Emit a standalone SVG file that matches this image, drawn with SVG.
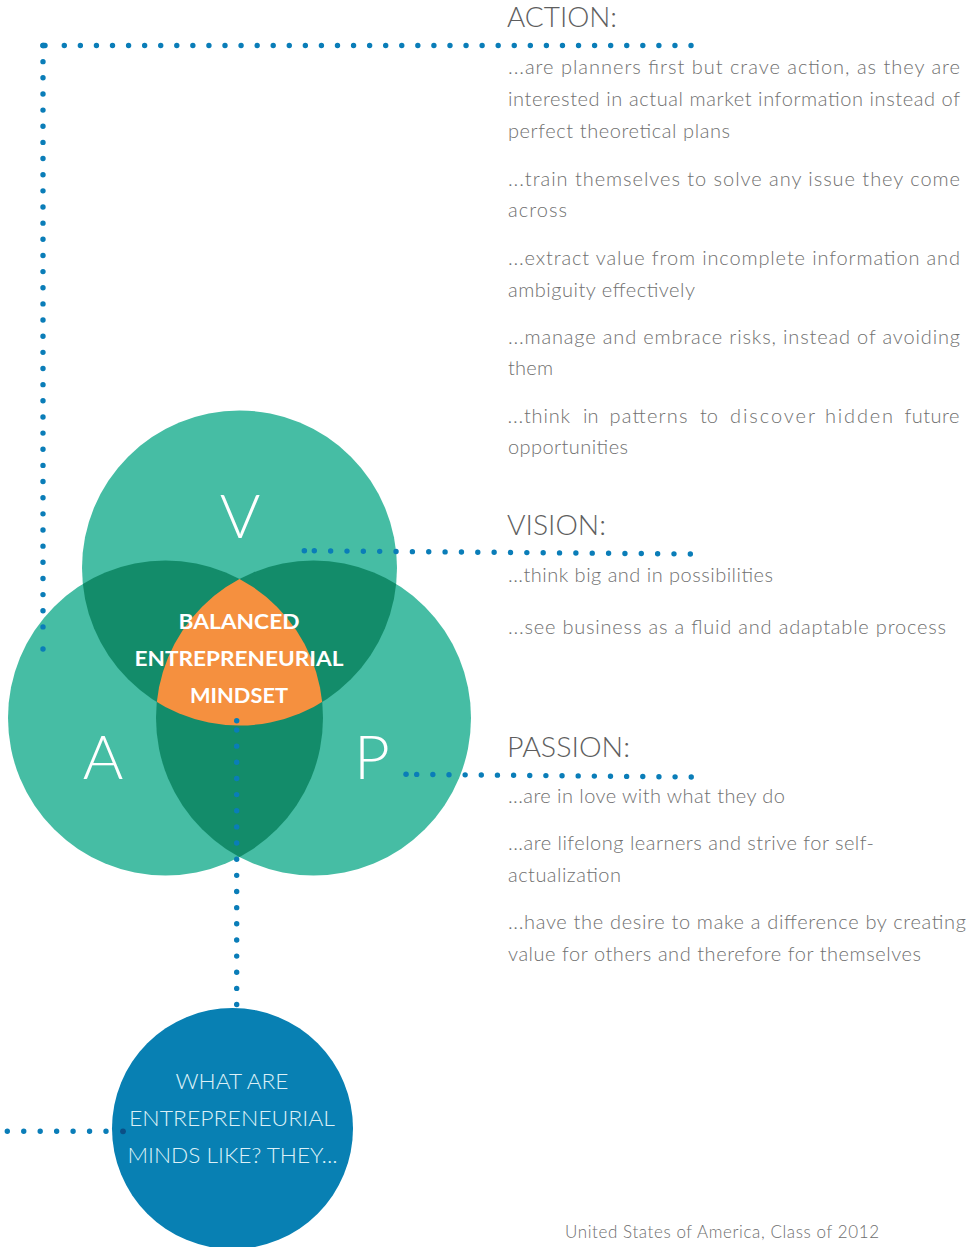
<svg xmlns="http://www.w3.org/2000/svg" width="978" height="1247" viewBox="0 0 978 1247">
<style>
.dots{fill:none;stroke:#0a7db8;stroke-width:5.4;stroke-linecap:round}
.light{fill:#46bda4}
.dark{fill:#138c6a}
.core{fill:#f5903f}
.big{font-family:Lato,"Open Sans","Liberation Sans",sans-serif;font-weight:300;font-size:62px;fill:#ffffff}
.mid{font-family:Lato,"Liberation Sans",sans-serif;font-weight:700;font-size:21px;fill:#ffffff;text-anchor:middle}
.head{font-family:Lato,"Liberation Sans",sans-serif;font-weight:300;font-size:27px;fill:#5e5e5e}
.body{font-family:Lato,"Liberation Sans",sans-serif;font-weight:300;font-size:20px;fill:#707070}
.q{font-family:Lato,"Liberation Sans",sans-serif;font-weight:300;font-size:22px;fill:#dcf0f7;text-anchor:middle}
.foot{font-family:Lato,"Liberation Sans",sans-serif;font-weight:300;font-size:17px;fill:#6e6e6e}
</style>
<defs>
<clipPath id="cV"><circle cx="239.5" cy="568" r="157.5"/></clipPath>
<clipPath id="cA"><circle cx="165.5" cy="718" r="157.5"/></clipPath>
</defs>

<g id="venn">
<circle class="light" cx="239.5" cy="568" r="157.5"/>
<circle class="light" cx="165.5" cy="718" r="157.5"/>
<circle class="light" cx="313.5" cy="718" r="157.5"/>
<g clip-path="url(#cV)">
<circle class="dark" cx="165.5" cy="718" r="157.5"/>
<circle class="dark" cx="313.5" cy="718" r="157.5"/>
</g>
<g clip-path="url(#cA)">
<circle class="dark" cx="313.5" cy="718" r="157.5"/>
</g>
<g clip-path="url(#cV)">
<g clip-path="url(#cA)">
<circle class="core" cx="313.5" cy="718" r="157.5"/>
</g>
</g>
</g>

<g id="node-V"><text class="big" x="240" y="538" text-anchor="middle">V</text></g>
<g id="node-A"><text class="big" x="103" y="779" text-anchor="middle">A</text></g>
<g id="node-P"><text class="big" x="372" y="779" text-anchor="middle">P</text></g>

<g id="node-center">
<text class="mid" x="239" y="629" textLength="121" lengthAdjust="spacingAndGlyphs">BALANCED</text>
<text class="mid" x="239" y="666" textLength="209" lengthAdjust="spacingAndGlyphs">ENTREPRENEURIAL</text>
<text class="mid" x="239" y="703" textLength="98" lengthAdjust="spacingAndGlyphs">MINDSET</text>
</g>

<g id="node-question">
<circle cx="232.5" cy="1128.5" r="120.5" fill="#0880b3"/>
<text class="q" x="232" y="1089" textLength="113" lengthAdjust="spacingAndGlyphs">WHAT ARE</text>
<text class="q" x="232" y="1126" textLength="206" lengthAdjust="spacingAndGlyphs">ENTREPRENEURIAL</text>
<text class="q" x="232.5" y="1163" textLength="210" lengthAdjust="spacingAndGlyphs">MINDS LIKE? THEY...</text>
</g>

<g id="connectors">
<path class="dots" d="M43 45.5 L45 45.5"/>
<path class="dots" stroke-dasharray="0 16.07" d="M64.3 45.5 H692"/>
<path class="dots" stroke-dasharray="0 16.15" d="M43 45.5 V627.5"/>
<path class="dots" d="M43 649 L43 649.1"/>
<path class="dots" d="M304.3 550.7 L304.4 550.7"/>
<path class="dots" stroke-dasharray="0 16.35" d="M314.3 550.8 L692.2 554"/>
<path class="dots" d="M406 774.3 L406.1 774.3"/>
<path class="dots" stroke-dasharray="0 16.15" d="M416.7 774.4 L692.2 777"/>
<path class="dots" d="M236.7 720.7 L236.7 720.8"/>
<path class="dots" stroke-dasharray="0 16.15" d="M236.7 730 V1005"/>
<path class="dots" stroke-dasharray="0 16.45" d="M7.3 1131.3 H106.6"/>
<circle cx="123" cy="1131.3" r="2.9" fill="#0b4f86"/>
</g>

<g id="action">
<text class="head" x="507" y="27" textLength="110" lengthAdjust="spacingAndGlyphs">ACTION:</text>
<text class="body" x="508" y="74" textLength="452" lengthAdjust="spacing">...are planners first but crave action, as they are</text>
<text class="body" x="508" y="106" textLength="452" lengthAdjust="spacing">interested in actual market information instead of</text>
<text class="body" x="508" y="138" textLength="222" lengthAdjust="spacing">perfect theoretical plans</text>
<text class="body" x="508" y="186" textLength="452" lengthAdjust="spacing">...train themselves to solve any issue they come</text>
<text class="body" x="508" y="217" textLength="59" lengthAdjust="spacing">across</text>
<text class="body" x="508" y="265" textLength="452" lengthAdjust="spacing">...extract value from incomplete information and</text>
<text class="body" x="508" y="297" textLength="187" lengthAdjust="spacing">ambiguity effectively</text>
<text class="body" x="508" y="344" textLength="452" lengthAdjust="spacing">...manage and embrace risks, instead of avoiding</text>
<text class="body" x="508" y="375" textLength="45" lengthAdjust="spacing">them</text>
<g id="think-line">
<text class="body" x="507.5" y="423" textLength="62.5" lengthAdjust="spacing">...think</text>
<text class="body" x="583" y="423">in</text>
<text class="body" x="609.5" y="423" textLength="78" lengthAdjust="spacing">patterns</text>
<text class="body" x="700" y="423">to</text>
<text class="body" x="730" y="423" textLength="85" lengthAdjust="spacing">discover</text>
<text class="body" x="825" y="423" textLength="68" lengthAdjust="spacing">hidden</text>
<text class="body" x="904.5" y="423" textLength="55" lengthAdjust="spacing">future</text>
</g>
<text class="body" x="508" y="454" textLength="120" lengthAdjust="spacing">opportunities</text>
</g>

<g id="vision">
<text class="head" x="507" y="535" textLength="99" lengthAdjust="spacingAndGlyphs">VISION:</text>
<text class="body" x="508" y="582" textLength="265" lengthAdjust="spacing">...think big and in possibilities</text>
<text class="body" x="508" y="634" textLength="438" lengthAdjust="spacing">...see business as a fluid and adaptable process</text>
</g>

<g id="passion">
<text class="head" x="507" y="757" textLength="123" lengthAdjust="spacingAndGlyphs">PASSION:</text>
<text class="body" x="508" y="803" textLength="277" lengthAdjust="spacing">...are in love with what they do</text>
<text class="body" x="508" y="850" textLength="366" lengthAdjust="spacing">...are lifelong learners and strive for self-</text>
<text class="body" x="508" y="882" textLength="113" lengthAdjust="spacing">actualization</text>
<text class="body" x="508" y="929" textLength="458" lengthAdjust="spacing">...have the desire to make a difference by creating</text>
<text class="body" x="508" y="961" textLength="413" lengthAdjust="spacing">value for others and therefore for themselves</text>
</g>

<text class="foot" x="565" y="1238" textLength="314" lengthAdjust="spacing">United States of America, Class of 2012</text>
</svg>
